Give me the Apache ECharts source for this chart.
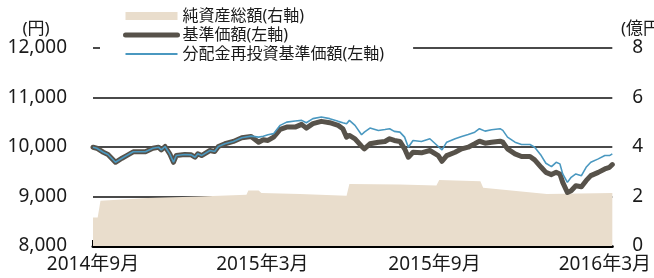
<!DOCTYPE html>
<html>
<head>
<meta charset="utf-8">
<script src="https://cdn.jsdelivr.net/npm/echarts@6/dist/echarts.min.js"></script>
<style>
  html, body { margin: 0; padding: 0; background: #fff; }
  #main { width: 654px; height: 278px; }
</style>
</head>
<body>
<div id="main"></div>
<script>
// 基準価額・分配金再投資基準価額の日付
var dates = [
    '2014-09-01', '2014-09-05', '2014-09-12', '2014-09-17', '2014-09-25', '2014-10-02', '2014-10-07', '2014-10-14',
    '2014-10-27', '2014-11-04', '2014-11-10', '2014-11-13', '2014-11-17', '2014-11-22', '2014-11-26', '2014-11-29',
    '2014-12-08', '2014-12-15', '2014-12-19', '2014-12-22', '2014-12-26', '2015-01-04', '2015-01-09', '2015-01-13',
    '2015-01-20', '2015-01-29', '2015-02-07', '2015-02-17', '2015-02-25', '2015-03-02', '2015-03-07', '2015-03-13',
    '2015-03-20', '2015-03-27', '2015-04-05', '2015-04-12', '2015-04-17', '2015-04-24', '2015-05-03', '2015-05-12',
    '2015-05-21', '2015-05-26', '2015-05-30', '2015-06-02', '2015-06-08', '2015-06-15', '2015-06-18', '2015-06-24',
    '2015-07-03', '2015-07-10', '2015-07-15', '2015-07-20', '2015-07-26', '2015-07-31', '2015-08-04', '2015-08-09',
    '2015-08-18', '2015-08-27', '2015-09-05', '2015-09-09', '2015-09-14', '2015-09-23', '2015-09-30', '2015-10-07',
    '2015-10-14', '2015-10-19', '2015-10-25', '2015-11-01', '2015-11-10', '2015-11-13', '2015-11-18', '2015-11-26',
    '2015-12-03', '2015-12-12', '2015-12-17', '2015-12-24', '2015-12-29', '2016-01-04', '2016-01-09', '2016-01-13',
    '2016-01-16', '2016-01-21', '2016-01-25', '2016-01-30', '2016-02-05', '2016-02-10', '2016-02-15', '2016-02-23',
    '2016-03-01', '2016-03-06', '2016-03-09'
];
// 基準価額（円）
var navValues = [
    9995, 9975, 9894, 9848, 9691, 9773, 9827, 9903,
    9903, 9976, 9996, 9943, 10010, 9862, 9691, 9827,
    9848, 9841, 9793, 9862, 9827, 9929, 9909, 10010,
    10065, 10112, 10187, 10213, 10097, 10146, 10132, 10199,
    10355, 10402, 10402, 10457, 10382, 10471, 10518, 10491,
    10437, 10370, 10199, 10234, 10166, 10016, 9963, 10065,
    10097, 10112, 10166, 10132, 10112, 9963, 9793, 9895,
    9882, 9929, 9827, 9712, 9827, 9895, 9963, 9996,
    10065, 10118, 10077, 10097, 10118, 10097, 9963, 9862,
    9807, 9807, 9740, 9590, 9488, 9442, 9488, 9456,
    9285, 9082, 9117, 9218, 9198, 9320, 9421, 9488,
    9557, 9590, 9645
];
// 分配金再投資基準価額（円）
var reinvValues = [
    9995, 9975, 9894, 9848, 9691, 9773, 9827, 9903,
    9903, 9976, 9996, 9943, 10010, 9862, 9691, 9827,
    9848, 9841, 9793, 9862, 9827, 9929, 9909, 10010,
    10065, 10112, 10187, 10220, 10199, 10219, 10248, 10270,
    10437, 10503, 10524, 10538, 10491, 10573, 10605, 10573,
    10518, 10491, 10470, 10538, 10437, 10248, 10300, 10382,
    10335, 10355, 10370, 10315, 10300, 10199, 9996, 10132,
    10112, 10166, 10010, 9943, 10097, 10166, 10213, 10254,
    10300, 10370, 10321, 10349, 10370, 10335, 10199, 10097,
    10051, 10051, 9996, 9827, 9671, 9604, 9691, 9659,
    9456, 9285, 9387, 9456, 9421, 9590, 9691, 9760,
    9827, 9827, 9862
];
// 純資産総額（億円）
var assetDates = [
    '2014-09-01', '2014-09-06', '2014-09-09', '2014-10-30', '2014-12-24', '2015-02-12', '2015-02-14',
    '2015-02-25', '2015-02-28', '2015-04-10', '2015-05-30', '2015-06-02', '2015-07-26', '2015-09-03',
    '2015-09-06', '2015-10-20', '2015-10-23', '2015-12-30', '2016-03-09'
];
var assetValues = [
    1.15, 1.15, 1.83, 1.94, 2.0, 2.07, 2.24,
    2.24, 2.14, 2.10, 2.03, 2.51, 2.48, 2.44,
    2.67, 2.62, 2.35, 2.10, 2.14
];
// 目盛り
var xTicks = ['2014-09-01', '2015-03-01', '2015-09-01', '2016-03-01'];
var xRange = ['2014-09-01', '2016-03-09'];
var seriesNames = ['純資産総額(右軸)', '基準価額(左軸)', '分配金再投資基準価額(左軸)'];

function toTime(s) {
    return echarts.number.parseDate(s).getTime();
}
function zip(xs, ys) {
    var out = [];
    for (var i = 0; i < xs.length; i++) {
        out.push([toTime(xs[i]), ys[i]]);
    }
    return out;
}

var tickTimes = xTicks.map(toTime);
var FONT = '"Noto Sans", "Noto Sans CJK JP", sans-serif';
var AREA_COLOR = '#e9ddcc';
var NAV_COLOR = '#57524a';
var REINV_COLOR = '#4a98c0';

var myChart = echarts.init(document.getElementById('main'));

var option = {
    animation: false,
    textStyle: {fontFamily: FONT, color: '#1a1a1a'},
    grid: {left: 93, right: 41, top: 48, bottom: 32},
    legend: {
        orient: 'vertical',
        left: 100,
        top: 3,
        padding: [5, 29, 4, 23],
        backgroundColor: '#fff',
        itemWidth: 52,
        itemHeight: 8,
        itemGap: 3,
        textStyle: {fontSize: 16, lineHeight: 16, color: '#1a1a1a', fontFamily: FONT},
        data: [
            {name: seriesNames[0], icon: 'rect', itemStyle: {color: AREA_COLOR}},
            {name: seriesNames[1], itemStyle: {opacity: 0}, lineStyle: {width: 5, color: NAV_COLOR, cap: 'round'}},
            {name: seriesNames[2], itemStyle: {opacity: 0}, lineStyle: {width: 2, color: REINV_COLOR}}
        ]
    },
    // 軸の単位
    graphic: [
        {type: 'text', x: 36, y: 29, style: {text: '(円)', fontSize: 17, fontFamily: FONT, fill: '#1a1a1a', align: 'center', verticalAlign: 'middle'}},
        {type: 'text', x: 621, y: 29, style: {text: '(億円)', fontSize: 17, fontFamily: FONT, fill: '#1a1a1a', align: 'left', verticalAlign: 'middle'}}
    ],
    xAxis: {
        type: 'value',
        min: toTime(xRange[0]),
        max: toTime(xRange[1]),
        axisLine: {show: true, lineStyle: {color: '#000', width: 3}},
        axisTick: {show: true, inside: true, length: 6, customValues: tickTimes, lineStyle: {color: '#000', width: 2}},
        axisLabel: {
            customValues: tickTimes,
            fontSize: 19,
            margin: 9,
            color: '#1a1a1a',
            showMinLabel: true,
            showMaxLabel: true,
            formatter: function (val) {
                var d = new Date(val);
                return d.getFullYear() + '年' + (d.getMonth() + 1) + '月';
            }
        },
        splitLine: {show: false}
    },
    yAxis: [
        {
            type: 'value',
            min: 8000,
            max: 12000,
            interval: 1000,
            axisLine: {show: false},
            axisTick: {show: false},
            axisLabel: {
                fontSize: 19,
                margin: 26,
                color: '#1a1a1a',
                formatter: function (v) { return echarts.format.addCommas(v); }
            },
            splitLine: {show: true, lineStyle: {color: '#4a4a4a', width: 2}}
        },
        {
            type: 'value',
            min: 0,
            max: 8,
            interval: 2,
            axisLine: {show: false},
            axisTick: {show: false},
            axisLabel: {fontSize: 19, margin: 20, color: '#1a1a1a'},
            splitLine: {show: false}
        }
    ],
    series: [
        {
            name: seriesNames[0],
            type: 'line',
            yAxisIndex: 1,
            symbol: 'none',
            lineStyle: {width: 0},
            itemStyle: {color: AREA_COLOR},
            areaStyle: {color: AREA_COLOR, opacity: 1},
            data: zip(assetDates, assetValues)
        },
        {
            name: seriesNames[1],
            type: 'line',
            symbol: 'none',
            lineStyle: {width: 5, color: NAV_COLOR, join: 'round', cap: 'round'},
            itemStyle: {color: NAV_COLOR},
            data: zip(dates, navValues)
        },
        {
            name: seriesNames[2],
            type: 'line',
            symbol: 'none',
            lineStyle: {width: 1.6, color: REINV_COLOR},
            itemStyle: {color: REINV_COLOR},
            data: zip(dates, reinvValues)
        }
    ]
};

myChart.setOption(option);
</script>
</body>
</html>
